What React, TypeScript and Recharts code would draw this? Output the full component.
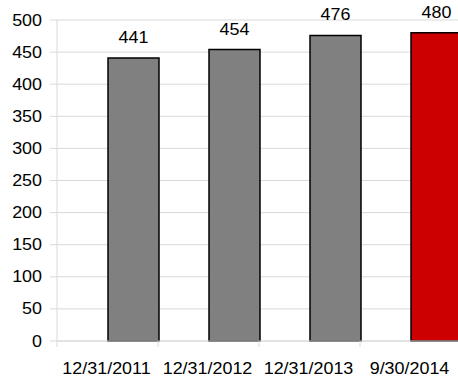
import React from 'react';
import { BarChart, Bar, XAxis, YAxis, CartesianGrid, Cell, LabelList } from 'recharts';

const categories = ['12/31/2011', '12/31/2012', '12/31/2013', '9/30/2014'];
const values = [441, 454, 476, 480];
const spacerValues = [null, null, null, null];
const barColors = ['#808080', '#808080', '#808080', '#CC0000'];
const yTicks = [0, 50, 100, 150, 200, 250, 300, 350, 400, 450, 500];

const data = categories.map((date, i) => ({ date, spacer: spacerValues[i], value: values[i] }));

const FONT = '"Liberation Sans", Arial, sans-serif';
const GRID = '#d9d9d9';
const CHART_W = 461;
const CHART_H = 381;
const LEFT = 57;
const BAND = (CHART_W - LEFT) / categories.length;
const FS = 16;
const SX = 1.12;

const YTick = (props: any) => {
    const { x, y, payload } = props;
    return (
        <text transform={`translate(${x},${y + 5.5}) scale(${SX},1)`} textAnchor="end"
            fontFamily={FONT} fontSize={FS} fill="#000">
            {payload.value}
        </text>
    );
};

const XTick = (props: any) => {
    const { x, y, payload, index } = props;
    return (
        <g>
            {index === 0 && <line x1={x - BAND / 2} x2={x - BAND / 2} y1={y} y2={y + 6} stroke={GRID} />}
            <line x1={x + BAND / 2} x2={x + BAND / 2} y1={y} y2={y + 6} stroke={GRID} />
            <text transform={`translate(${x - 1},${y + 32.5}) scale(${SX},1)`} textAnchor="middle"
                fontFamily={FONT} fontSize={FS} fill="#000">
                {payload.value}
            </text>
        </g>
    );
};

const ValueLabel = (props: any) => {
    const { x, y, width, value } = props;
    return (
        <text transform={`translate(${x + width / 2},${y - 15}) scale(${SX},1)`} textAnchor="middle"
            fontFamily={FONT} fontSize={FS} fill="#000">
            {value}
        </text>
    );
};

export default function App() {
    return (
        <div style={{ position: 'absolute', left: 0, top: 0, width: 458, height: 381, overflow: 'hidden', background: '#fff' }}>
            <BarChart width={CHART_W} height={CHART_H} data={data}
                margin={{ top: 20, right: 0, bottom: 0, left: 0 }}
                barGap={0} barCategoryGap={0}>
                <CartesianGrid vertical={false} stroke={GRID} />
                <XAxis dataKey="date" height={40} axisLine={{ stroke: GRID }} tickLine={false}
                    tickSize={0} tickMargin={0} tick={<XTick />} interval={0} />
                <YAxis width={LEFT} domain={[0, 500]} ticks={yTicks} axisLine={{ stroke: GRID }}
                    tickLine={{ stroke: GRID }} tickSize={7} tickMargin={8} tick={<YTick />} />
                <Bar dataKey="spacer" fill="none" isAnimationActive={false} />
                <Bar dataKey="value" stroke="#000" strokeWidth={1.5} isAnimationActive={false}>
                    {data.map((d, i) => (
                        <Cell key={d.date} fill={barColors[i]} />
                    ))}
                    <LabelList dataKey="value" content={<ValueLabel />} />
                </Bar>
            </BarChart>
        </div>
    );
}
